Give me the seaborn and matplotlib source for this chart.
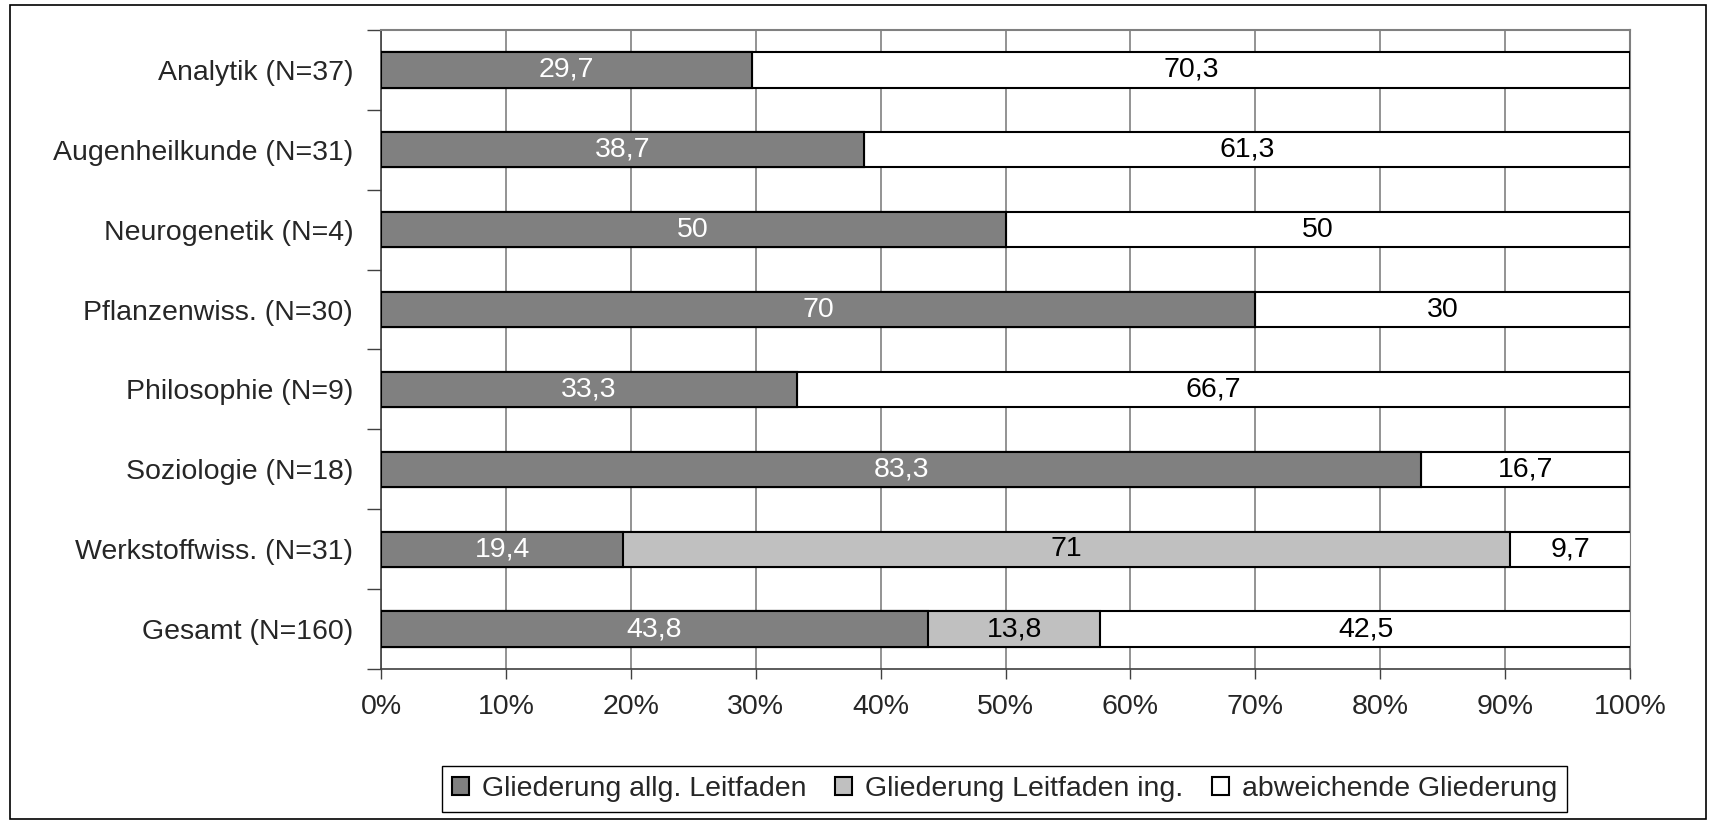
import numpy as np
import pandas as pd
import seaborn as sns
import matplotlib.pyplot as plt
from matplotlib.patches import Patch, Rectangle

# data (percent)
categories = ["Analytik (N=37)", "Augenheilkunde (N=31)", "Neurogenetik (N=4)",
              "Pflanzenwiss. (N=30)", "Philosophie (N=9)", "Soziologie (N=18)",
              "Werkstoffwiss. (N=31)", "Gesamt (N=160)"]
allg = [29.7, 38.7, 50, 70, 33.3, 83.3, 19.4, 43.8]
ing = [0, 0, 0, 0, 0, 0, 71, 13.8]
abweichend = [70.3, 61.3, 50, 30, 66.7, 16.7, 9.7, 42.5]
series_names = ["Gliederung allg. Leitfaden", "Gliederung Leitfaden ing.",
                "abweichende Gliederung"]
colors = ["#808080", "#c0c0c0", "#ffffff"]
x_ticks = np.arange(0, 101, 10)

FS = 20.5

sns.set_style("white")
plt.rcParams["font.family"] = ["Liberation Sans", "DejaVu Sans"]

df = pd.DataFrame({"cat": categories, "allg": allg, "ing": ing, "abw": abweichend})
df["c1"] = df["allg"]
df["c2"] = df["allg"] + df["ing"]
df["c3"] = df["c2"] + df["abw"]

fig = plt.figure(figsize=(17.1, 8.21), dpi=100)
ax = fig.add_axes([381 / 1710, 1 - 669 / 821, 1249 / 1710, 639 / 821])

# stacked bars: draw cumulative totals from widest to narrowest
for col, c in zip(["c3", "c2", "c1"], colors[::-1]):
    sns.barplot(data=df, x=col, y="cat", order=categories, orient="h",
                color=c, saturation=1, edgecolor="black", linewidth=1.5,
                width=0.44, ax=ax, zorder=3)

# value labels
for i, row in df.iterrows():
    left = 0
    for val, txtc in zip([row["allg"], row["ing"], row["abw"]], ["white", "black", "black"]):
        if val > 0:
            lab = ("%g" % val).replace(".", ",")
            ax.text(left + val / 2, i, lab, ha="center", va="center",
                    fontsize=FS, color=txtc, zorder=5)
        left += val

ax.set_xlim(0, 100)
ax.set_ylim(len(categories) - 0.5, -0.5)
ax.set_xticks(x_ticks)
ax.set_xticklabels([f"{t}%" for t in x_ticks])
ax.set_xlabel("")
ax.set_ylabel("")
ax.set_yticks(np.arange(-0.5, len(categories), 1), minor=True)
ax.tick_params(axis="y", which="major", length=0, pad=20, labelsize=FS)
ax.tick_params(axis="y", which="minor", length=10, width=1, color="#404040", left=True)
ax.tick_params(axis="x", which="major", length=7, width=1, color="#404040",
               bottom=True, pad=11, labelsize=FS)
ax.grid(axis="x", color="#808080", linewidth=1.2, zorder=0)
ax.set_axisbelow(True)
for s in ["left", "bottom"]:
    ax.spines[s].set_color("#404040")
    ax.spines[s].set_linewidth(1.2)
for s in ["top", "right"]:
    ax.spines[s].set_color("#808080")
    ax.spines[s].set_linewidth(1.5)

handles = [Patch(facecolor=c, edgecolor="black", linewidth=1.5) for c in colors]
leg = fig.legend(handles, series_names, loc="center", ncol=3,
                 bbox_to_anchor=(1004.5 / 1710, 1 - 789 / 821), fontsize=FS,
                 frameon=True, fancybox=False, framealpha=1, edgecolor="black",
                 handlelength=0.6, handleheight=0.6, handletextpad=0.45,
                 columnspacing=1.0, borderpad=0.35, borderaxespad=0)
leg.get_frame().set_linewidth(1)

# outer chart border
fig.add_artist(Rectangle((10 / 1710, 2 / 821), 1696 / 1710, 814 / 821,
                         transform=fig.transFigure, fill=False,
                         edgecolor="black", linewidth=1.2))

fig.savefig("out.png", dpi=100)
